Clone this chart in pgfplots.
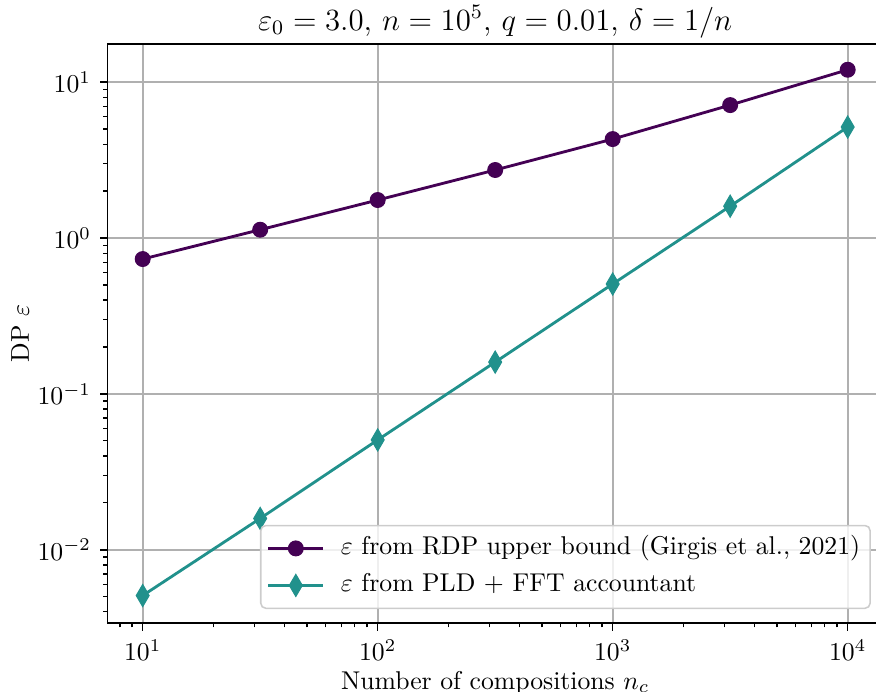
\documentclass[border=0pt]{standalone}
\usepackage{pgfplots}
\pgfplotsset{compat=1.18}
\definecolor{vpurple}{HTML}{440154}
\definecolor{vteal}{HTML}{21918C}
\definecolor{gridgray}{HTML}{B0B0B0}
\definecolor{legedge}{HTML}{CCCCCC}
\pgfplotstableread{
x y
10 0.733
31.62 1.13
100 1.752
316.2 2.73
1000 4.31
3162 7.12
10000 12.0
}\rdp
\pgfplotstableread{
x y
10 0.00509
31.62 0.0159
100 0.0507
316.2 0.160
1000 0.507
3162 1.60
10000 5.15
}\pld
\begin{document}
\begin{tikzpicture}
\begin{axis}[
  scale only axis,
  width=301.7pt, height=225.2pt,
  xmode=log, ymode=log,
  xmin=7.08, xmax=14125,
  ymin=0.00339, ymax=17.5,
  axis line style={line width=0.7pt},
  tick align=outside,
  tick pos=left,
  major tick length=2.9pt,
  minor tick length=1.7pt,
  every tick/.style={black, line width=0.6pt},
  every minor tick/.style={black, line width=0.45pt},
  grid=major,
  grid style={gridgray, line width=0.65pt},
  every axis title shift=0pt,
  title={$\varepsilon_0 = 3.0$, $n = 10^5$, $q = 0.01$, $\delta = 1/n$},
  title style={font=\large, at={(axis description cs:0.5,1.0242)}, anchor=base, yshift=0pt},
  xlabel={Number of compositions $n_c$},
  xlabel style={at={(axis description cs:0.5,-0.1140)}, anchor=base},
  ylabel={DP $\varepsilon$},
  ylabel style={at={(axis description cs:-0.1012,0.5)}, anchor=base, rotate=0},
  legend style={
    at={(axis description cs:0.9845,0.0242)}, anchor=south east,
    draw=legedge, line width=0.6pt, rounded corners=2pt,
    fill=white, fill opacity=0.8, text opacity=1, draw opacity=1,
    inner xsep=2.4pt, inner ysep=2.4pt,
    nodes={inner sep=1.5pt, text height=7.5pt, text depth=2.5pt},
    row sep=1.4pt, column sep=4.8pt,
  },
  legend cell align=left,
  legend image code/.code={
    \draw[fill opacity=1, draw opacity=1, mark repeat=2, mark phase=2] plot coordinates {(0pt,0pt) (10.7pt,0pt) (21.4pt,0pt)};
  },
]
\addplot[vpurple, line width=1.1pt, mark=*, mark size=2.9pt,
  mark options={fill=vpurple, draw=vpurple, line width=0.4pt, fill opacity=1}] table[x=x,y=y] {\rdp};
\addlegendentry{$\varepsilon$ from RDP upper bound (Girgis et al., 2021)}
\addplot[vteal, line width=1.1pt, mark=diamond*, mark size=4.3pt,
  mark options={fill=vteal, draw=vteal, line width=0.4pt, xscale=0.78, fill opacity=1}] table[x=x,y=y] {\pld};
\addlegendentry{$\varepsilon$ from PLD + FFT accountant}
\end{axis}
\pgfresetboundingbox
\path[use as bounding box] (-41.8pt,-26.45pt) rectangle (299.0pt,242.4pt);
\end{tikzpicture}
\end{document}
